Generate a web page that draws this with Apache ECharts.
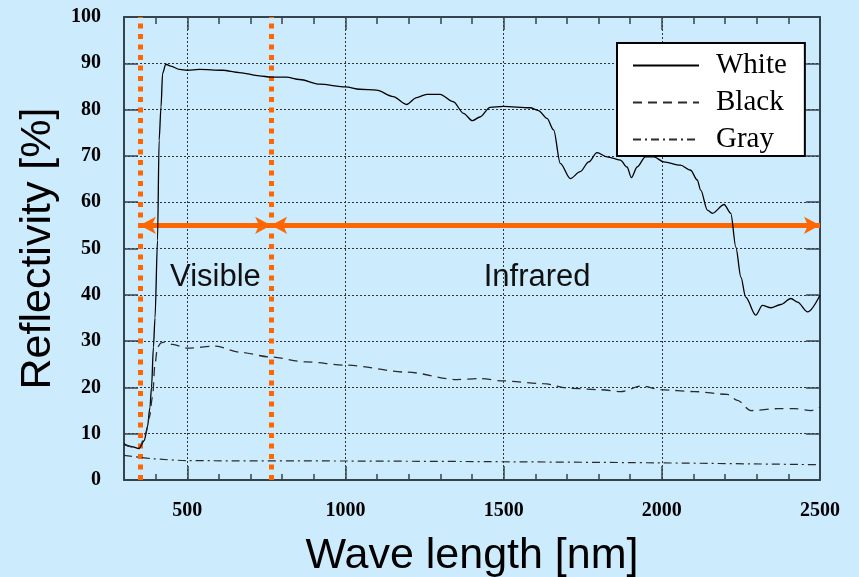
<!DOCTYPE html>
<html>
<head>
<meta charset="utf-8">
<script src="https://cdn.jsdelivr.net/npm/echarts@6/dist/echarts.min.js"></script>
<style>
  html, body { margin: 0; padding: 0; background: #ccebfd; }
  #chart { width: 859px; height: 577px; }
</style>
</head>
<body>
<div id="chart"></div>
<script>
// wavelength [nm], reflectivity [%]
const whiteData = [
  [300, 7.8], [325, 7.2], [348, 6.8], [364, 8.5], [374, 11.4], [382, 15.7], [387, 20], [393, 28.7],
  [398, 35], [406, 51.8], [411, 73.4], [417, 80.6], [422, 87.8], [432, 89.8], [448, 89.4], [475, 88.7],
  [500, 88.5], [538, 88.7], [612, 88.5], [665, 88.0], [728, 87.3], [765, 87.0], [813, 87.0], [855, 86.5],
  [918, 85.5], [1001, 84.9], [1045, 84.4], [1098, 84.2], [1151, 82.8], [1193, 81.1], [1225, 82.6],
  [1257, 83.3], [1299, 83.3], [1341, 81.7], [1373, 79.2], [1401, 77.6], [1425, 78.4], [1457, 80.5],
  [1499, 80.7], [1584, 80.4], [1610, 79.8], [1637, 78.1], [1658, 75.6], [1679, 68.4], [1711, 65.1],
  [1742, 66.6], [1769, 68.7], [1795, 70.7], [1827, 69.8], [1869, 69.1], [1890, 67.6], [1904, 65.3],
  [1922, 67.6], [1948, 69.8], [1975, 69.8], [2006, 68.7], [2059, 68.0], [2091, 66.9], [2112, 64.8],
  [2123, 62.6], [2144, 58.3], [2160, 57.6], [2197, 59.5], [2218, 57.6], [2234, 50.3], [2250, 43.8],
  [2265, 39.5], [2297, 35.6], [2318, 37.7], [2345, 37.2], [2376, 37.9], [2408, 39.2], [2429, 38.4],
  [2461, 36.3], [2500, 39.9]
]
const blackData = [
  [300, 7.6], [348, 6.9], [369, 10], [380, 13.5], [390, 17.9], [398, 25.1], [406, 28.7], [417, 29.6],
  [427, 29.8], [453, 29.3], [500, 28.5], [591, 28.9], [665, 27.6], [760, 26.6], [876, 25.5], [1003, 24.8],
  [1193, 23.3], [1352, 21.7], [1425, 21.9], [1499, 21.4], [1626, 20.8], [1711, 19.8], [1806, 19.5],
  [1869, 19.1], [1938, 20.3], [1996, 19.5], [2102, 19.1], [2207, 18.5], [2239, 17.2], [2281, 15.0],
  [2366, 15.4], [2419, 15.4], [2472, 15.0], [2500, 15.7]
]
const grayData = [
  [300, 5.3], [348, 4.9], [390, 4.6], [500, 4.2], [1003, 4.1], [1362, 4.0], [1996, 3.7], [2500, 3.3]
]
const seriesNames = ['White', 'Black', 'Gray']

// visible / infrared band markers
const bandEdges = [350, 765]
const arrowLevel = 55
const bandLabels = [['Visible', 589, 43.7], ['Infrared', 1606, 43.7]]

const xMin = 300
const xMax = 2500

const chart = echarts.init(document.getElementById('chart'))

const frameLine = { show: true, onZero: false, lineStyle: { color: '#37434c', width: 2 } }
const tickStyle = { color: '#37434c', width: 1.5 }
const gridLine = { show: true, lineStyle: { color: '#333', width: 1, type: [2, 2] } }
const serif = 'Liberation Serif'
const sans = 'Liberation Sans'

const orange = '#ff6600'

const option = {
  backgroundColor: '#ccebfd',
  animation: false,
  grid: { left: 124, top: 17, width: 696, height: 463, containLabel: false, outerBoundsMode: 'none' },
  legend: {
    data: seriesNames,
    orient: 'vertical',
    left: 617,
    top: 43,
    backgroundColor: '#fff',
    borderColor: '#000',
    borderWidth: 2,
    padding: [7, 18, 1, 15],
    itemWidth: 66,
    itemHeight: 14,
    itemGap: 6,
    itemStyle: { opacity: 0 },
    textStyle: { fontFamily: serif, fontSize: 29, color: '#000', lineHeight: 31, padding: [0, 0, 0, 12] }
  },
  xAxis: [
    {
      // bottom, major ticks + labels
      type: 'value', min: xMin, max: xMax, position: 'bottom',
      axisLine: frameLine,
      axisTick: { inside: true, length: 14, lineStyle: tickStyle },
      axisLabel: {
        formatter: v => (v % 500 === 0 ? String(v) : ''),
        fontFamily: serif, fontWeight: 'bold', fontSize: 20, color: '#000', margin: 21
      },
      splitLine: gridLine,
      name: 'Wave length [nm]',
      nameLocation: 'middle',
      nameGap: 55,
      nameTextStyle: { fontFamily: sans, fontSize: 43, color: '#000' }
    },
    {
      // bottom, minor ticks
      type: 'value', min: xMin, max: xMax, interval: 100, position: 'bottom',
      axisLine: { show: false, onZero: false },
      axisTick: { inside: true, length: 6, lineStyle: tickStyle },
      axisLabel: { show: false },
      splitLine: { show: false }
    },
    {
      type: 'value', min: xMin, max: xMax, position: 'top',
      axisLine: frameLine,
      axisTick: { inside: true, length: 13, lineStyle: tickStyle },
      axisLabel: { show: false },
      splitLine: { show: false }
    },
    {
      type: 'value', min: xMin, max: xMax, interval: 100, position: 'top',
      axisLine: { show: false, onZero: false },
      axisTick: { inside: true, length: 7, lineStyle: tickStyle },
      axisLabel: { show: false },
      splitLine: { show: false }
    }
  ],
  yAxis: [
    {
      type: 'value', min: 0, max: 100, interval: 10, position: 'left',
      axisLine: frameLine,
      axisTick: { inside: true, length: 14, lineStyle: tickStyle },
      axisLabel: { fontFamily: serif, fontWeight: 'bold', fontSize: 20, color: '#000', margin: 23 },
      splitLine: gridLine,
      name: 'Reflectivity [%]',
      nameLocation: 'middle',
      nameGap: 63,
      nameRotate: 90,
      nameTextStyle: { fontFamily: sans, fontSize: 43, color: '#000' }
    },
    {
      type: 'value', min: 0, max: 100, interval: 10, position: 'right',
      axisLine: frameLine,
      axisTick: { inside: true, length: 14, lineStyle: tickStyle },
      axisLabel: { show: false },
      splitLine: { show: false }
    }
  ],
  series: [
    {
      name: 'White', type: 'line', data: whiteData, symbol: 'none',
      smooth: 0.3, smoothMonotone: 'x', z: 5,
      lineStyle: { color: '#000', width: 1.3 }
    },
    {
      name: 'Black', type: 'line', data: blackData, symbol: 'none',
      smooth: 0.3, smoothMonotone: 'x', z: 5,
      lineStyle: { color: '#2b2b2b', width: 1.3, type: [9, 6] }
    },
    {
      name: 'Gray', type: 'line', data: grayData, symbol: 'none',
      smooth: 0.3, z: 5,
      lineStyle: { color: '#2b2b2b', width: 1.2, type: [8, 4, 2, 4] }
    },
    {
      // orange dotted band edges
      name: 'edges', type: 'line', data: [], silent: true, z: 4,
      markLine: {
        silent: true, symbol: 'none', animation: false,
        label: { show: false },
        lineStyle: { color: orange, width: 5, type: [5, 5.5], cap: 'butt' },
        data: bandEdges.map(v => ({ xAxis: v }))
      }
    },
    {
      // orange double arrows + band names
      name: 'bands', type: 'line', data: [], silent: true, z: 6,
      markLine: {
        silent: true, symbol: ['arrow', 'arrow'], symbolSize: [13, 16], animation: false,
        label: { show: false },
        lineStyle: { color: orange, width: 5, type: 'solid' },
        data: [
          [{ coord: [bandEdges[0], arrowLevel] }, { coord: [bandEdges[1], arrowLevel] }],
          [{ coord: [bandEdges[1], arrowLevel] }, { coord: [xMax, arrowLevel] }]
        ]
      },
      markPoint: {
        silent: true, symbol: 'circle', symbolSize: 0, animation: false,
        label: { show: true, position: 'inside', fontFamily: sans, fontSize: 31, color: '#111' },
        data: bandLabels.map(b => ({ name: b[0], coord: [b[1], b[2]], label: { formatter: b[0] } }))
      }
    }
  ]
}

chart.setOption(option)
</script>
</body>
</html>
